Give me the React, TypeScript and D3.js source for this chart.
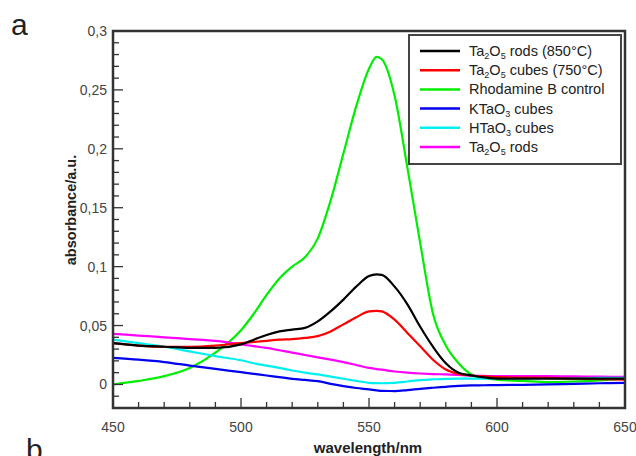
import React, { useEffect, useRef } from "react";
import * as d3 from "d3";

const wavelengths = [
  450, 460, 470, 480, 490, 500, 505, 510, 515, 520, 525, 530, 535, 540, 545,
  550, 553, 555, 560, 565, 570, 575, 580, 585, 590, 595, 600, 610, 620, 630,
  640, 650,
];

const rods850 = [
  0.035, 0.033, 0.032, 0.031, 0.031, 0.034, 0.038, 0.042, 0.045, 0.0465,
  0.048, 0.0535, 0.062, 0.072, 0.083, 0.092, 0.0935, 0.093, 0.083, 0.068,
  0.049, 0.032, 0.018, 0.01, 0.0076, 0.006, 0.005, 0.005, 0.005, 0.005, 0.005,
  0.005,
];
const cubes750 = [
  0.035, 0.033, 0.032, 0.032, 0.033, 0.035, 0.036, 0.037, 0.038, 0.0385,
  0.0395, 0.041, 0.045, 0.051, 0.057, 0.062, 0.0625, 0.062, 0.055, 0.0437,
  0.0324, 0.021, 0.0127, 0.009, 0.0076, 0.0068, 0.0062, 0.0058, 0.0055, 0.005,
  0.0045, 0.004,
];
const rhodamine = [
  0, 0.003, 0.007, 0.014, 0.027, 0.046, 0.06, 0.076, 0.09, 0.1, 0.108, 0.124,
  0.156, 0.196, 0.236, 0.268, 0.278, 0.276, 0.245, 0.184, 0.12, 0.06, 0.033,
  0.018, 0.0085, 0.0055, 0.004, 0.003, 0.002, 0.0025, 0.0035, 0.005,
];
const ktao3 = [
  0.0225, 0.021, 0.019, 0.016, 0.0132, 0.0104, 0.009, 0.0076, 0.0062, 0.0048,
  0.0038, 0.0028, 0.0005, -0.0014, -0.003, -0.0042, -0.005, -0.0055, -0.0056,
  -0.0048, -0.0037, -0.0028, -0.002, -0.0012, -0.0008, -0.0007, -0.0006,
  -0.0003, 0, 0.0005, 0.001, 0.0014,
];
const htao3 = [
  0.038, 0.035, 0.032, 0.028, 0.024, 0.0205, 0.018, 0.016, 0.014, 0.0118,
  0.01, 0.0085, 0.0067, 0.0048, 0.003, 0.0014, 0.0011, 0.001, 0.0014, 0.0025,
  0.0037, 0.0043, 0.0048, 0.005, 0.005, 0.005, 0.005, 0.0052, 0.0053, 0.0054,
  0.0055, 0.0056,
];
const rods = [
  0.043, 0.0415, 0.04, 0.0385, 0.037, 0.034, 0.0325, 0.031, 0.029, 0.027,
  0.025, 0.023, 0.021, 0.019, 0.0165, 0.014, 0.013, 0.0125, 0.011, 0.01,
  0.0093, 0.0088, 0.0085, 0.008, 0.0075, 0.0072, 0.007, 0.007, 0.007, 0.0068,
  0.0066, 0.0065,
];

const seriesNames = [
  ["Ta", "2", "O", "5", " rods (850°C)"],
  ["Ta", "2", "O", "5", " cubes (750°C)"],
  ["Rhodamine B control"],
  ["KTaO", "3", " cubes"],
  ["HTaO", "3", " cubes"],
  ["Ta", "2", "O", "5", " rods"],
];
const seriesColors = ["#000000", "#ff0000", "#00ee00", "#0000ee", "#00f0f0", "#ff00ff"];
const seriesValues = [rods850, cubes750, rhodamine, ktao3, htao3, rods];

const yTickLabels = ["0", "0,05", "0,1", "0,15", "0,2", "0,25", "0,3"];

export default function App() {
  const ref = useRef<SVGSVGElement>(null);

  useEffect(() => {
    const svg = d3.select(ref.current);
    svg.selectAll("*").remove();

    const left = 113, right = 625, top = 31, bottom = 408;
    const x = d3.scaleLinear().domain([450, 650]).range([left, right]);
    const y = d3.scaleLinear().domain([-0.02, 0.3]).range([bottom, top]);
    const font = "Arial, 'Liberation Sans', sans-serif";

    const clipId = "plotclip";
    svg.append("clipPath").attr("id", clipId)
      .append("rect").attr("x", left).attr("y", top)
      .attr("width", right - left).attr("height", bottom - top);

    const line = d3.line<number>()
      .x((d, i) => x(wavelengths[i]))
      .y((d) => y(d))
      .curve(d3.curveMonotoneX);

    // rhodamine first so the others sit on top where they cross
    const order = [2, 5, 4, 3, 1, 0];
    const g = svg.append("g").attr("clip-path", `url(#${clipId})`);
    order.forEach((k) => {
      g.append("path")
        .attr("d", line(seriesValues[k]))
        .attr("fill", "none")
        .attr("stroke", seriesColors[k])
        .attr("stroke-width", 2.2);
    });

    // ticks, pointing inwards
    const ticks = svg.append("g").attr("stroke", "#333").attr("stroke-width", 1.3);
    d3.range(460, 650, 10).forEach((v) => {
      const len = v % 50 === 0 ? 10 : 6;
      ticks.append("line").attr("x1", x(v)).attr("x2", x(v))
        .attr("y1", bottom).attr("y2", bottom - len);
    });
    d3.range(-1, 30).forEach((k) => {
      const v = k / 100;
      const len = k % 5 === 0 ? 10 : 6;
      ticks.append("line").attr("x1", left).attr("x2", left + len)
        .attr("y1", y(v)).attr("y2", y(v));
    });

    // frame
    svg.append("rect").attr("x", left).attr("y", top)
      .attr("width", right - left).attr("height", bottom - top)
      .attr("fill", "none").attr("stroke", "#333").attr("stroke-width", 2.5);

    // tick labels
    yTickLabels.forEach((t, i) => {
      svg.append("text").attr("x", 107).attr("y", y(i * 0.05) + 5)
        .attr("text-anchor", "end").attr("font-family", font)
        .attr("font-size", 14).attr("fill", "#444").text(t);
    });
    x.ticks(4).forEach((v) => {
      svg.append("text").attr("x", x(v)).attr("y", 432)
        .attr("text-anchor", "middle").attr("font-family", font)
        .attr("font-size", 14).attr("fill", "#444").text(v);
    });

    svg.append("text").attr("x", 368).attr("y", 453)
      .attr("text-anchor", "middle").attr("font-family", font)
      .attr("font-size", 15).attr("font-weight", "bold").attr("fill", "#222")
      .text("wavelength/nm");
    svg.append("text")
      .attr("transform", "translate(76,210) rotate(-90)")
      .attr("text-anchor", "middle").attr("font-family", font)
      .attr("font-size", 14.5).attr("font-weight", "bold").attr("fill", "#222")
      .text("absorbance/a.u.");

    svg.append("text").attr("x", 11).attr("y", 35).attr("font-family", font)
      .attr("font-size", 30).attr("fill", "#222").text("a");
    svg.append("text").attr("x", 26).attr("y", 460).attr("font-family", font)
      .attr("font-size", 30).attr("fill", "#222").text("b");

    // legend
    const lg = svg.append("g");
    lg.append("rect").attr("x", 409).attr("y", 35).attr("width", 212)
      .attr("height", 129).attr("fill", "white")
      .attr("stroke", "#444").attr("stroke-width", 2);
    seriesNames.forEach((parts, i) => {
      const ly = 51 + i * 19.2;
      lg.append("line").attr("x1", 420).attr("x2", 460)
        .attr("y1", ly).attr("y2", ly)
        .attr("stroke", seriesColors[i]).attr("stroke-width", 2.5);
      const t = lg.append("text").attr("x", 469).attr("y", ly + 5)
        .attr("font-family", font).attr("font-size", 14.5).attr("fill", "#222");
      parts.forEach((p) => {
        const isSub = /^\d$/.test(p);
        const sp = t.append("tspan").text(p);
        if (isSub) sp.attr("font-size", 9).attr("baseline-shift", "-3");
      });
    });
  }, []);

  return (
    <svg
      ref={ref}
      width={636}
      height={456}
      style={{ position: "absolute", left: 0, top: 0, background: "white" }}
    />
  );
}
